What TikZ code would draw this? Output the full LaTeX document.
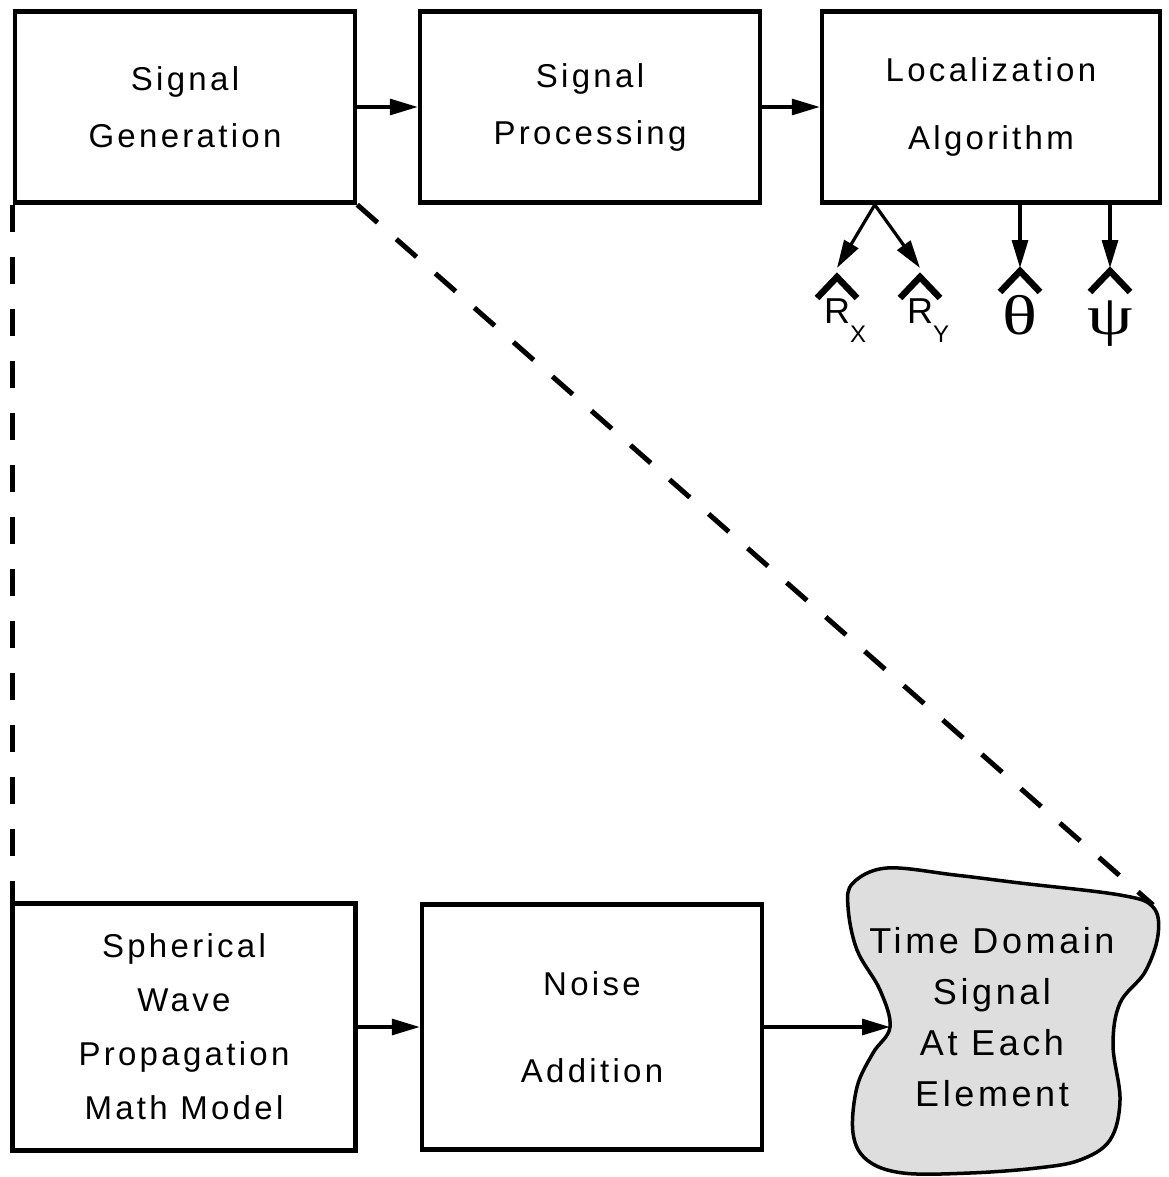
\documentclass[tikz,border=0pt]{standalone}
\usepackage{fontspec}
\usepackage{graphicx}
\setmainfont{Liberation Sans}[LetterSpace=10]
\newfontfamily\greekfont{Liberation Serif}
\usetikzlibrary{arrows.meta}
\usetikzlibrary{calc}

\begin{document}
\begin{tikzpicture}[line cap=round,line join=round,>={Triangle[length=28pt,width=16pt]},x=1pt,y=-1pt,
  box/.style={draw,line width=4.5pt,line join=miter,align=center,inner sep=0pt,font=\fontsize{33}{57}\selectfont},
  link/.style={->,line width=3.2pt},
  dashline/.style={line width=5pt,line cap=butt,dash pattern=on 27pt off 25pt},
  hatline/.style={line width=6.5pt,line cap=butt,line join=miter},
  lab/.style={inner sep=0pt,anchor=north,text height=#1,font=\fontsize{36}{36}\selectfont},
  greek/.style={lab=66pt,font=\greekfont\fontsize{56}{56}\selectfont}]
\useasboundingbox (0,0) rectangle (1168,1177);
% top row
\node[box,minimum width=340pt,minimum height=191pt] (gen) at (185,107) {Signal\\Generation};
\node[box,minimum width=340pt,minimum height=191pt] (proc) at (590,107) {Signal\\Processing};
\node[box,minimum width=338pt,minimum height=191pt] (loc) at (991,107) {Localization\\[11pt]Algorithm};
% bottom row
\node[box,minimum width=343pt,minimum height=247pt,font=\fontsize{33}{54}\selectfont] (sph) at (184,1027) {Spherical\\Wave\\Propagation\\Math Model};
\node[box,minimum width=340pt,minimum height=245pt] (noise) at (592,1027) {Noise\\[30pt]Addition};
% the blob
\coordinate (blobW) at (890,1027);
\coordinate (blobNE) at (1153,905);
\draw[line width=3.5pt,fill=black!13] plot[smooth cycle,tension=0.6] coordinates {
  (853,883) (887,868) (955,875) (1020,883) (1120,895) (1153,907) (1158,935) (1145,972)
  (1120,1003) (1113,1045) (1120,1100) (1110,1140) (1080,1160) (1037,1168) (970,1173)
  (903,1173) (867,1160) (853,1133) (857,1087) (873,1053) (blobW) (880,990) (857,950) (848,907)};
\node[align=center,inner sep=0pt,font=\fontsize{36}{51}\selectfont] (tds) at (992,1017) {Time Domain\\Signal\\At Each\\Element};
% connectors
\draw[link] (gen) -- (proc);
\draw[link] (proc) -- (loc);
\draw[link] (sph) -- (noise);
\draw[link] (noise.east) -- (blobW);
\draw[dashline] (gen.south west) -- (gen.south west |- sph.north);
\draw[dashline] (gen.south east) -- (blobNE);
% estimates
\coordinate (split) at ($(loc.south west)+(55,0)$);
\node[lab=55pt] (Rx) at (837,268) {R\rlap{\raisebox{-19pt}{\fontsize{24}{24}\selectfont X}}};
\node[lab=55pt] (Ry) at (920,268) {R\rlap{\raisebox{-19pt}{\fontsize{24}{24}\selectfont Y}}};
\node[greek] (Th) at (1020,268) {\scalebox{1.3}[1]{θ}};
\node[greek] (Ps) at (1110,268) {\scalebox{1.3}[1]{ψ}};
\foreach \n/\t in {Rx/9,Ry/9,Th/3,Ps/3}
  \draw[hatline] ($(\n.north)+(-20,\t+21)$) -- ($(\n.north)+(0,\t)$) -- ($(\n.north)+(20,\t+21)$);
\draw[link] (split) -- (Rx.north);
\draw[link] (split) -- (Ry.north);
\draw[link] (Th.north |- loc.south) -- (Th.north);
\draw[link] (Ps.north |- loc.south) -- (Ps.north);
\end{tikzpicture}
\end{document}
